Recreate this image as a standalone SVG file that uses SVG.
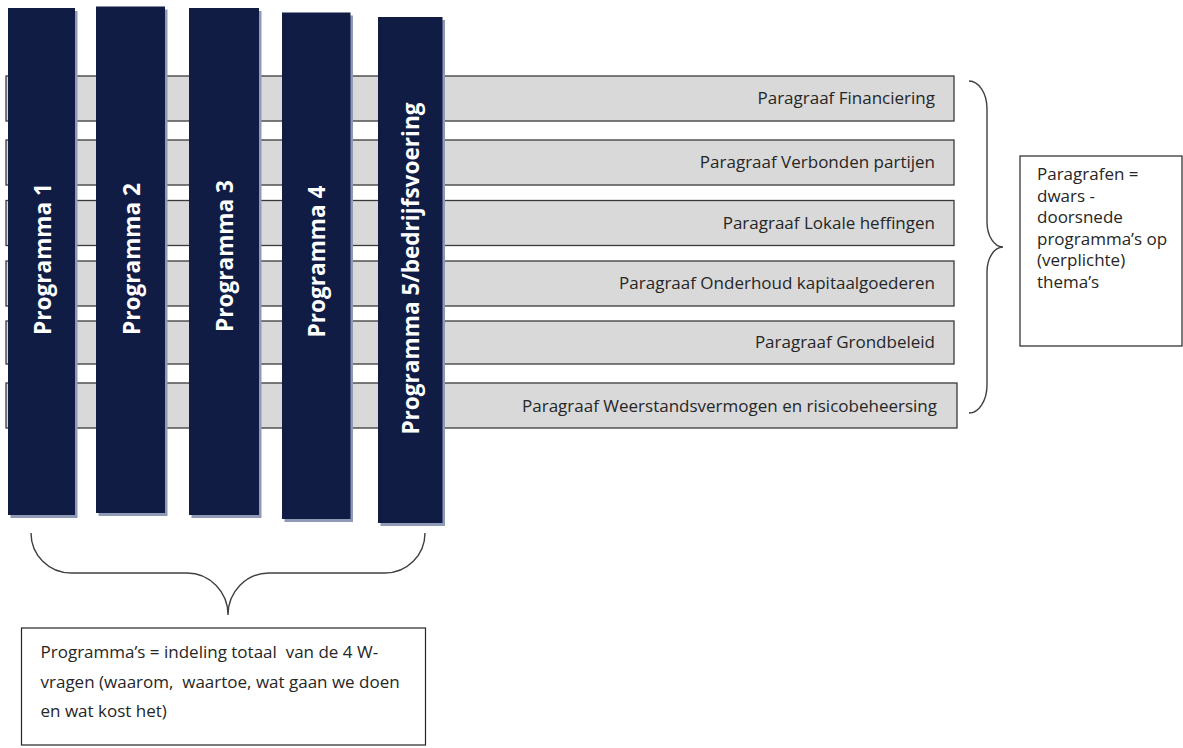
<svg xmlns="http://www.w3.org/2000/svg" width="1183" height="748" viewBox="0 0 1183 748">
<style>
.row{fill:#d9d9d9;stroke:#3a3a3a;stroke-width:1.3}
.bar{fill:#111c45}
.sh{fill:#8e9ab6}
.bt{font-family:"Open Sans",sans-serif;font-weight:bold;font-size:22.6px;fill:#ffffff;text-anchor:middle}
.rt{font-family:"Open Sans",sans-serif;font-size:17px;fill:#262626;text-anchor:end}
.nt{font-family:"Open Sans",sans-serif;font-size:17px;fill:#262626;white-space:pre}
.box{fill:#ffffff;stroke:#262626;stroke-width:1.2}
.brace{fill:none;stroke:#404040;stroke-width:1.4}
</style>
<rect width="1183" height="748" fill="#ffffff"/>
<g id="paragrafen">
<g id="p-financiering"><rect class="row" x="6" y="76" width="948" height="45"/><text class="rt" x="935" y="104">Paragraaf Financiering</text></g>
<g id="p-verbonden"><rect class="row" x="6" y="140" width="948" height="45"/><text class="rt" x="935" y="168">Paragraaf Verbonden partijen</text></g>
<g id="p-lokale"><rect class="row" x="6" y="200.5" width="948" height="45"/><text class="rt" x="935" y="228.5">Paragraaf Lokale heffingen</text></g>
<g id="p-onderhoud"><rect class="row" x="6" y="261" width="948" height="45"/><text class="rt" x="935" y="289">Paragraaf Onderhoud kapitaalgoederen</text></g>
<g id="p-grondbeleid"><rect class="row" x="6" y="321" width="948" height="43"/><text class="rt" x="935" y="348">Paragraaf Grondbeleid</text></g>
<g id="p-weerstand"><rect class="row" x="6" y="383" width="951" height="45"/><text class="rt" x="937" y="411.5">Paragraaf Weerstandsvermogen en risicobeheersing</text></g>
</g>
<g id="programma1"><rect class="sh" x="10.5" y="11" width="67" height="507"/><rect class="bar" x="8" y="8" width="67" height="507"/><text class="bt" transform="translate(50.5,259) rotate(-90)">Programma 1</text></g>
<g id="programma2"><rect class="sh" x="98.5" y="9.5" width="69" height="506.5"/><rect class="bar" x="96" y="6.5" width="69" height="506.5"/><text class="bt" transform="translate(139.5,259) rotate(-90)">Programma 2</text></g>
<g id="programma3"><rect class="sh" x="191.5" y="11" width="70" height="507"/><rect class="bar" x="189" y="8" width="70" height="507"/><text class="bt" transform="translate(233,256) rotate(-90)">Programma 3</text></g>
<g id="programma4"><rect class="sh" x="284.5" y="15.5" width="68.5" height="506.5"/><rect class="bar" x="282" y="12.5" width="68.5" height="506.5"/><text class="bt" transform="translate(325,261.5) rotate(-90)">Programma 4</text></g>
<g id="programma5"><rect class="sh" x="380.5" y="20" width="64.5" height="506"/><rect class="bar" x="378" y="17" width="64.5" height="506"/><text class="bt" transform="translate(419,268.5) rotate(-90)">Programma 5/bedrijfsvoering</text></g>
<g id="connectors">
<path class="brace" d="M31,533 A40,40 0 0 0 71,573 L187,573 A41,42 0 0 1 228,615 A41,42 0 0 1 269,573 L385,573 A40,40 0 0 0 425,533"/>
<path class="brace" d="M969,81 A18,28 0 0 1 987,109 L987,222 A16,25 0 0 0 1003,247 A16,25 0 0 0 987,272 L987,385 A18,28 0 0 1 969,413"/>
</g>
<g id="note-programmas"><rect class="box" x="21.5" y="628" width="404" height="117"/>
<text class="nt" x="40.5" y="658">Programma’s = indeling totaal  van de 4 W-</text>
<text class="nt" x="40.5" y="687.5">vragen (waarom,  waartoe, wat gaan we doen</text>
<text class="nt" x="40.5" y="717">en wat kost het)</text></g>
<g id="note-paragrafen"><rect class="box" x="1020" y="156" width="162" height="190"/>
<text class="nt" x="1037" y="180">Paragrafen =</text>
<text class="nt" x="1037" y="201.5">dwars -</text>
<text class="nt" x="1037" y="223">doorsnede</text>
<text class="nt" x="1037" y="244.5">programma’s op</text>
<text class="nt" x="1037" y="266">(verplichte)</text>
<text class="nt" x="1037" y="287.5">thema’s</text></g>
</svg>
